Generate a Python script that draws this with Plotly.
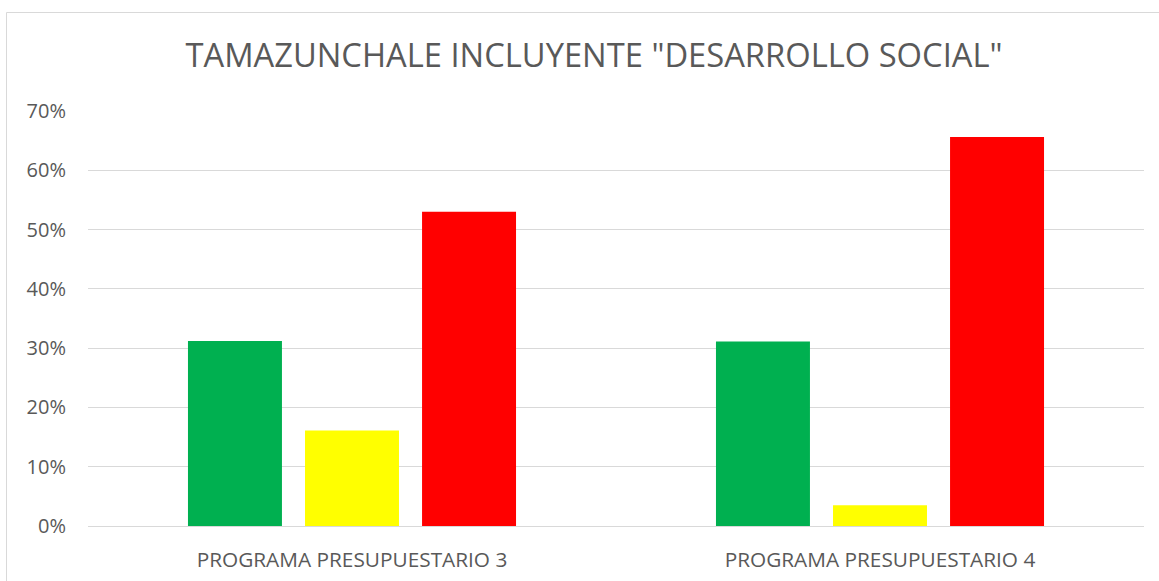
import plotly.graph_objects as go

categories = ["PROGRAMA PRESUPUESTARIO 3", "PROGRAMA PRESUPUESTARIO 4"]
series_names = ["Verde", "Amarillo", "Rojo"]
green_vals = [0.312, 0.311]
yellow_vals = [0.161, 0.035]
red_vals = [0.530, 0.656]
colors = ["#00B050", "#FFFF00", "#FF0000"]
title_text = 'TAMAZUNCHALE INCLUYENTE "DESARROLLO SOCIAL"'

fig = go.Figure()
for name, vals, col in zip(series_names, [green_vals, yellow_vals, red_vals], colors):
    fig.add_trace(go.Bar(x=categories, y=vals, name=name, marker=dict(color=col, line=dict(width=0))))

W, H = 1159, 581
L, R, T, B = 88, 15, 111, 55
pw = W - L - R
ph = H - T - B

def px2paper_x(px):
    return (px - L) / pw

def px2paper_y(py):
    return (H - B - py) / ph

fig.update_layout(
    width=W, height=H,
    margin=dict(l=L, r=R, t=T, b=B),
    paper_bgcolor="white", plot_bgcolor="white",
    barmode="group", bargap=0.335, bargroupgap=0.197,
    showlegend=False,
    font=dict(family="Open Sans", color="#595959"),
    title=dict(text=title_text, x=594 / W, xref="container", xanchor="center",
               y=1 - 56 / H, yanchor="middle", yref="container", automargin=False,
               font=dict(size=32.7, color="#595959", family="Open Sans")),
    xaxis=dict(showgrid=False, showline=True, linecolor="#d9d9d9", linewidth=1,
               automargin=False,
               ticks="", ticklabelstandoff=15, tickfont=dict(size=20.8, color="#595959")),
    yaxis=dict(range=[0, 0.7], tickvals=[0, 0.1, 0.2, 0.3, 0.4, 0.5, 0.6, 0.7],
               automargin=False,
               tickformat=".0%", showgrid=True, gridcolor="#d9d9d9", gridwidth=1,
               zeroline=False, showline=False, ticks="", ticklabelstandoff=21,
               tickfont=dict(size=20, color="#595959")),
    shapes=[dict(type="rect", xref="paper", yref="paper",
                 x0=px2paper_x(6.5), x1=px2paper_x(1170), y0=px2paper_y(600), y1=px2paper_y(12.5),
                 line=dict(color="#d9d9d9", width=1), fillcolor="rgba(0,0,0,0)", layer="below")],
)

fig.write_html("out.html", config={"displayModeBar": False},
               post_script="document.body.style.margin='0';")
